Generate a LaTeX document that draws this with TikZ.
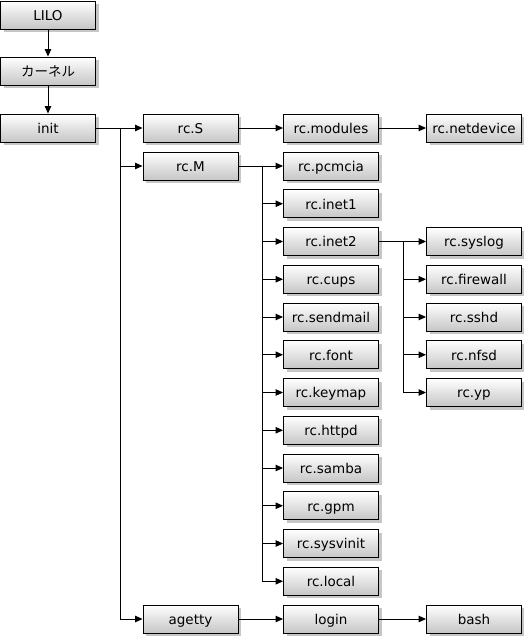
\documentclass[tikz,border=0pt]{standalone}
\usepackage{fontspec}
\setmainfont{DejaVu Sans}
\newfontfamily\jp{Noto Sans CJK JP}
\usetikzlibrary{shadows,arrows.meta}
\begin{document}
\begin{tikzpicture}[x=1pt,y=1pt,
  box/.style={draw=black,line width=0.9pt,minimum width=95pt,minimum height=28pt,inner sep=0pt,
    text height=11.5pt,text depth=1pt,
    top color=white,bottom color=gray!45,
    drop shadow={shadow xshift=3pt,shadow yshift=-3pt,fill=gray!45,opacity=1},
    font=\fontsize{13.5}{15}\selectfont},
  arr/.style={-{Triangle[length=7.5pt,width=6.5pt]},line width=0.9pt},
  ln/.style={line width=0.9pt}]
\useasboundingbox (0,0) rectangle (523,-636);
% column 1
\node[box] (lilo) at (48,-15) {LILO};
\node[box] (kernel) at (48,-71) {\jp カーネル};
\node[box] (init) at (48,-128) {init};
% column 2
\node[box] (rcS) at (190.5,-128) {rc.S};
\node[box] (rcM) at (190.5,-166) {rc.M};
\node[box] (agetty) at (190.5,-619) {agetty};
% column 3
\node[box] (modules) at (331,-128) {rc.modules};
\node[box] (pcmcia) at (331,-166) {rc.pcmcia};
\node[box] (inet1) at (331,-203.75) {rc.inet1};
\node[box] (inet2) at (331,-241.5) {rc.inet2};
\node[box] (cups) at (331,-279.25) {rc.cups};
\node[box] (sendmail) at (331,-317) {rc.sendmail};
\node[box] (font) at (331,-354.75) {rc.font};
\node[box] (keymap) at (331,-392.5) {rc.keymap};
\node[box] (httpd) at (331,-430.25) {rc.httpd};
\node[box] (samba) at (331,-468) {rc.samba};
\node[box] (gpm) at (331,-505.75) {rc.gpm};
\node[box] (sysvinit) at (331,-543.5) {rc.sysvinit};
\node[box] (local) at (331,-581.25) {rc.local};
\node[box] (login) at (331,-619) {login};
% column 4
\node[box] (netdevice) at (474,-128) {rc.netdevice};
\node[box] (syslog) at (474,-241.5) {rc.syslog};
\node[box] (firewall) at (474,-279.25) {rc.firewall};
\node[box] (sshd) at (474,-317) {rc.sshd};
\node[box] (nfsd) at (474,-354.75) {rc.nfsd};
\node[box] (yp) at (474,-392.5) {rc.yp};
\node[box] (bash) at (474,-619) {bash};
% connectors
\draw[arr] (lilo) -- (kernel);
\draw[arr] (kernel) -- (init);
\draw[arr] (init) -- (rcS);
\coordinate (ja) at (120,-128);
\coordinate (jb) at (120,-619);
\draw[ln] (ja) -- (jb);
\draw[arr] (ja |- rcM) -- (rcM);
\draw[arr] (jb) -- (agetty);
\draw[arr] (rcS) -- (modules);
\draw[arr] (modules) -- (netdevice);
\draw[arr] (rcM) -- (pcmcia);
\coordinate (ka) at (262,-166);
\coordinate (kb) at (262,-581.25);
\draw[ln] (ka) -- (kb);
\foreach \n in {inet1,inet2,cups,sendmail,font,keymap,httpd,samba,gpm,sysvinit,local}
  \draw[arr] (ka |- \n) -- (\n);
\draw[arr] (inet2) -- (syslog);
\coordinate (ma) at (403,-241.5);
\coordinate (mb) at (403,-392.5);
\draw[ln] (ma) -- (mb);
\foreach \n in {firewall,sshd,nfsd,yp}
  \draw[arr] (ma |- \n) -- (\n);
\draw[arr] (agetty) -- (login);
\draw[arr] (login) -- (bash);
\end{tikzpicture}
\end{document}
